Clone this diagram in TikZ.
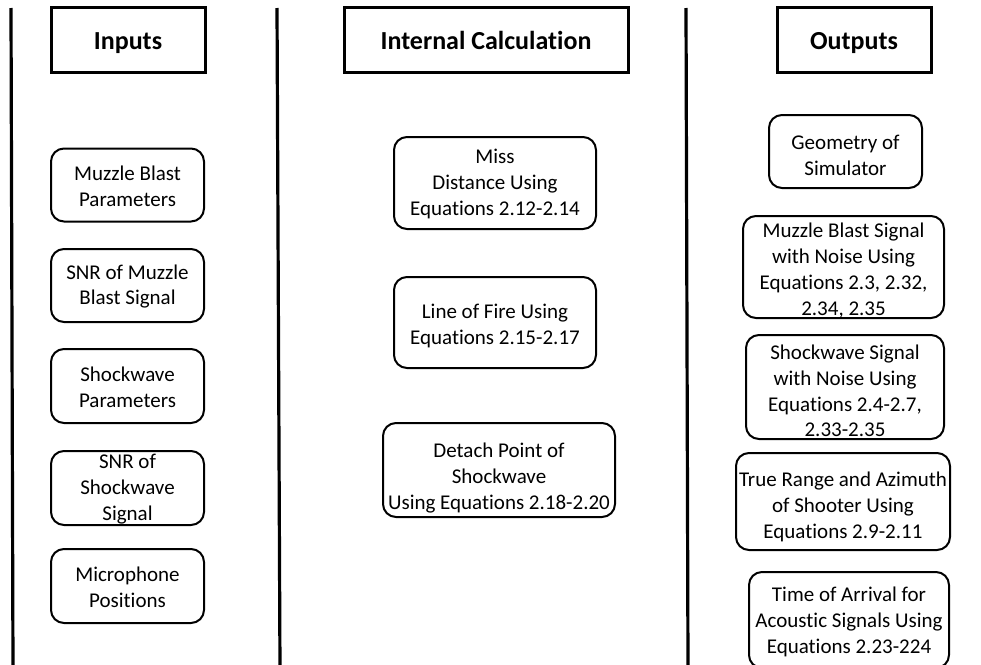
\documentclass[tikz,border=0pt]{standalone}
\usepackage{fontspec}
\setmainfont{Carlito}[Ligatures={NoCommon}]
\begin{document}
\begin{tikzpicture}[x=1pt,y=-1pt,
  divider/.style={line width=3.2pt},
  headbox/.style={draw,line width=3pt,inner sep=0pt},
  headtxt/.style={anchor=base,inner sep=0pt,font=\fontsize{26}{30}\selectfont\bfseries},
  rbox/.style={draw,line width=2pt,rounded corners=13pt,inner sep=0pt},
  txt/.style={align=center,inner sep=0pt,font=\fontsize{21}{25.8}\selectfont}]
\useasboundingbox (0,0) rectangle (981,664);

% column dividers
\coordinate (d1t) at (11,8);   \coordinate (d1b) at (13,670);
\coordinate (d2t) at (277,8);  \coordinate (d2b) at (280,670);
\coordinate (d3t) at (686,8);  \coordinate (d3b) at (688,670);
\draw[divider] (d1t) -- (d1b);
\draw[divider] (d2t) -- (d2b);
\draw[divider] (d3t) -- (d3b);

% column headers
\node[headbox,minimum width=154,minimum height=65] (hin) at (128,39.5) {};
\node[headtxt] (thin) at (128,49) {Inputs};
\node[headbox,minimum width=284,minimum height=65] (hcalc) at (486,39.5) {};
\node[headtxt] (thcalc) at (486,49) {Internal Calculation};
\node[headbox,minimum width=154,minimum height=65] (hout) at (854,39.5) {};
\node[headtxt] (thout) at (854,49) {Outputs};

% inputs
\node[rbox,minimum width=153,minimum height=73] (in1) at (127.5,185) {};
\node[txt] (tin1) at (127.5,186) {Muzzle Blast\\Parameters};
\node[rbox,minimum width=153,minimum height=73] (in2) at (127.5,285.5) {};
\node[txt] (tin2) at (127.5,286.5) {SNR of Muzzle\\Blast Signal};
\node[rbox,minimum width=153,minimum height=74] (in3) at (127.5,386) {};
\node[txt] (tin3) at (127.5,387) {Shockwave\\Parameters};
\node[rbox,minimum width=153,minimum height=74] (in4) at (127.5,488) {};
\node[txt] (tin4) at (127.5,489) {SNR of\\Shockwave\\Signal};
\node[rbox,minimum width=153,minimum height=74] (in5) at (127.5,586) {};
\node[txt] (tin5) at (127.5,587) {Microphone\\Positions};

% internal calculation
\node[rbox,minimum width=202,minimum height=92] (c1) at (495,183) {};
\node[txt] (tc1) at (495,184) {Miss\\Distance Using\\Equations 2.12-2.14};
\node[rbox,minimum width=202,minimum height=91] (c2) at (495,322.5) {};
\node[txt] (tc2) at (495,326) {Line of Fire Using\\Equations 2.15-2.17};
\node[rbox,minimum width=232,minimum height=94] (c3) at (499,470) {};
\node[txt] (tc3) at (499,478) {Detach Point of\\Shockwave\\Using Equations 2.18-2.20};

% outputs
\node[rbox,minimum width=153,minimum height=73] (o1) at (845.5,151.5) {};
\node[txt] (to1) at (845.5,155.5) {Geometry of\\Simulator};
\node[rbox,minimum width=201,minimum height=102] (o2) at (843.5,267) {};
\node[txt] (to2) at (843.5,270.5) {Muzzle Blast Signal\\with Noise Using\\Equations 2.3, 2.32,\\2.34, 2.35};
\node[rbox,minimum width=198,minimum height=104] (o3) at (845,387) {};
\node[txt] (to3) at (845,391) {Shockwave Signal\\with Noise Using\\Equations 2.4-2.7,\\2.33-2.35};
\node[rbox,minimum width=214,minimum height=97] (o4) at (843,501.5) {};
\node[txt] (to4) at (843,507) {True Range and Azimuth\\of Shooter Using\\Equations 2.9-2.11};
\node[rbox,minimum width=200,minimum height=96] (o5) at (849,620) {};
\node[txt] (to5) at (849,622) {Time of Arrival for\\Acoustic Signals Using\\Equations 2.23-224};
\end{tikzpicture}
\end{document}
